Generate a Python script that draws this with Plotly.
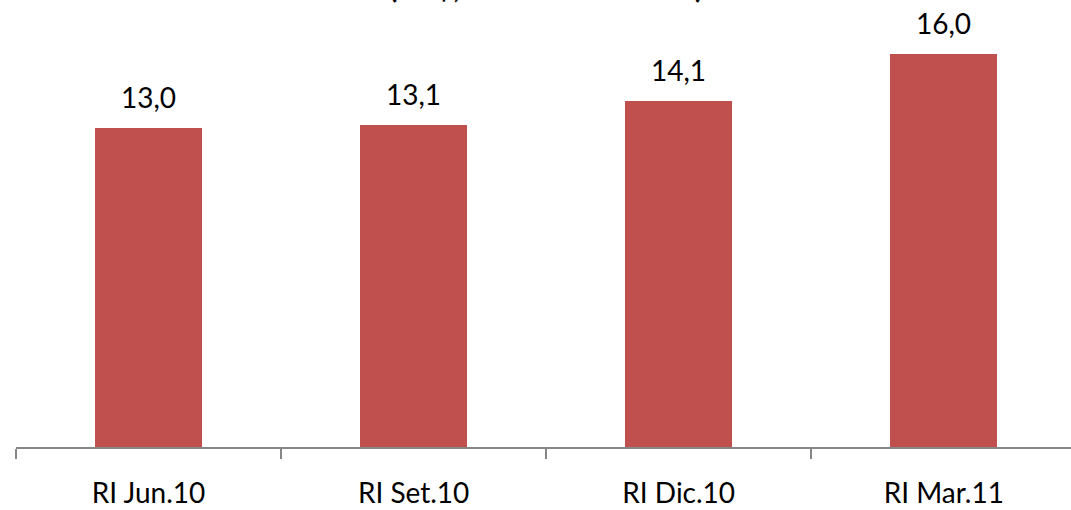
import plotly.graph_objects as go

categories = ["RI Jun.10", "RI Set.10", "RI Dic.10", "RI Mar.11"]
values = [13.0, 13.1, 14.1, 16.0]
value_labels = ["13,0", "13,1", "14,1", "16,0"]
title_text = "(US$, miles de millones)"

BAR_COLOR = "#C0504D"
AXIS_COLOR = "#868686"
FONT = "Lato"

fig = go.Figure()
fig.add_trace(go.Bar(
    x=categories,
    y=values,
    width=0.405,
    marker=dict(color=BAR_COLOR, line=dict(width=0)),
    hoverinfo="skip",
))

for cat, v, lab in zip(categories, values, value_labels):
    fig.add_annotation(
        x=cat, y=v, text=lab, showarrow=False,
        xanchor="center", yanchor="bottom", yshift=12,
        font=dict(family=FONT, size=28, color="#000000"),
    )

# chart title (mostly cropped above the visible area, as in the reference)
fig.add_annotation(
    xref="paper", yref="paper", x=(546 - 16) / 1055, y=1,
    text="<b>" + title_text + "</b>", showarrow=False,
    xanchor="center", yanchor="bottom", yshift=4,
    font=dict(family=FONT, size=30, color="#000000"),
)

fig.update_layout(
    width=1071, height=510,
    margin=dict(l=16, r=0, t=10, b=63),
    paper_bgcolor="white", plot_bgcolor="white",
    showlegend=False,
    bargap=0,
    xaxis=dict(
        type="category",
        range=[-0.5, 3.48],
        showline=True, linecolor=AXIS_COLOR, linewidth=1.5,
        ticks="outside", ticklen=10, tickcolor=AXIS_COLOR, tickwidth=1.5,
        tickson="boundaries",
        showgrid=False, zeroline=False,
        tickfont=dict(family=FONT, size=28, color="#000000"),
        ticklabelstandoff=21,
        automargin=False,
    ),
    yaxis=dict(
        range=[0, 437 / 24.55],
        visible=False, showgrid=False, zeroline=False,
        automargin=False,
    ),
)

fig.write_html("out.html")
